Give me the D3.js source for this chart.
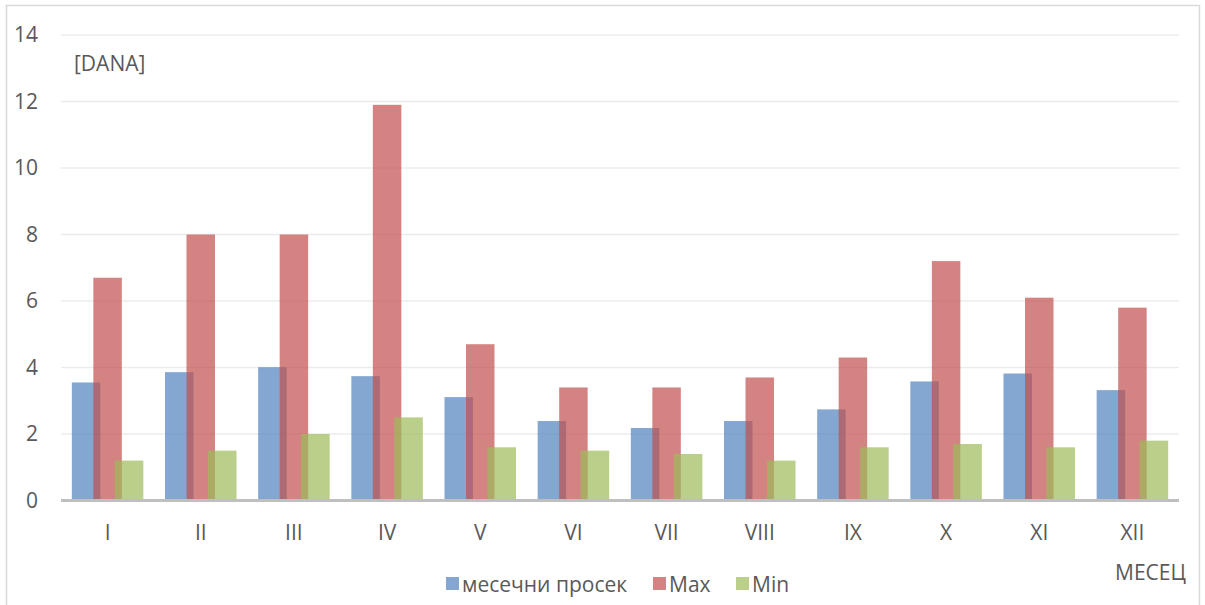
<!DOCTYPE html>
<html>
<head>
<meta charset="utf-8">
<script src="https://cdn.jsdelivr.net/npm/d3@7"></script>
<style>
  html, body { margin: 0; padding: 0; background: #fff; }
  svg text { font-family: "Open Sans", "Noto Sans", sans-serif; fill: #595959; }
</style>
</head>
<body>
<svg id="chart" width="1205" height="605"></svg>
<script>
// Months (Roman numerals) and the three series in days
const months = ["I", "II", "III", "IV", "V", "VI", "VII", "VIII", "IX", "X", "XI", "XII"];
const avgDays = [3.55, 3.86, 4.01, 3.74, 3.11, 2.39, 2.18, 2.39, 2.74, 3.58, 3.82, 3.32];
const maxDays = [6.7, 8.0, 8.0, 11.9, 4.7, 3.4, 3.4, 3.7, 4.3, 7.2, 6.1, 5.8];
const minDays = [1.2, 1.5, 2.0, 2.5, 1.6, 1.5, 1.4, 1.2, 1.6, 1.7, 1.6, 1.8];
const yTicks = [0, 2, 4, 6, 8, 10, 12, 14];

const series = [
  { name: "месечни просек", values: avgDays, color: "#4F81BD" },
  { name: "Max", values: maxDays, color: "#C0504D" },
  { name: "Min", values: minDays, color: "#9BBB59" }
];

const FONT = 21;
const svg = d3.select("#chart");
const plot = { left: 61, right: 1179, top: 35, bottom: 500.5 };

// Outer frame
svg.append("rect")
  .attr("x", 6.5).attr("y", 5.5)
  .attr("width", 1193).attr("height", 610)
  .attr("fill", "none").attr("stroke", "#d9d9d9").attr("stroke-width", 1.5);

const x = d3.scaleBand().domain(months).range([plot.left, plot.right]).padding(0);
const y = d3.scaleLinear().domain([0, 14]).range([plot.bottom, plot.top]);

// Gridlines
svg.append("g")
  .selectAll("line")
  .data(yTicks.filter(t => t > 0))
  .join("line")
  .attr("x1", plot.left).attr("x2", plot.right)
  .attr("y1", d => y(d)).attr("y2", d => y(d))
  .attr("stroke", "#ececec").attr("stroke-width", 1.5);

// Y axis labels
const yAxis = d3.axisLeft(y).tickValues(yTicks).tickSize(0).tickPadding(0);
const gy = svg.append("g").attr("transform", `translate(38,0)`).call(yAxis);
gy.select(".domain").remove();
gy.selectAll("text").attr("font-size", FONT).attr("fill", "#595959")
  .style("font-family", '"Open Sans", "Noto Sans", sans-serif');

// Bars: each series offset within the band, overlapping its neighbour
const barW = 28.5, offset = 21.5;
series.forEach((s, i) => {
  svg.append("g")
    .selectAll("rect")
    .data(s.values)
    .join("rect")
    .attr("x", (d, j) => x(months[j]) + x.bandwidth() / 2 + (i - 1) * offset - barW / 2)
    .attr("width", barW)
    .attr("y", d => y(d))
    .attr("height", d => y(0) - y(d))
    .attr("fill", s.color)
    .attr("fill-opacity", 0.7);
});

// X axis baseline and labels
svg.append("line")
  .attr("x1", plot.left).attr("x2", plot.right)
  .attr("y1", plot.bottom).attr("y2", plot.bottom)
  .attr("stroke", "#bfbfbf").attr("stroke-width", 3);

const xAxis = d3.axisBottom(x).tickSize(0).tickPadding(0);
const gx = svg.append("g").attr("transform", `translate(0,${plot.bottom + 39})`).call(xAxis);
gx.select(".domain").remove();
gx.selectAll("text").attr("font-size", FONT).attr("fill", "#595959").attr("dy", 0)
  .style("font-family", '"Open Sans", "Noto Sans", sans-serif');

// Axis titles
svg.append("text").attr("x", 74).attr("y", 71).attr("font-size", FONT).text("[DANA]");
svg.append("text").attr("x", 1186).attr("y", 580).attr("font-size", FONT)
  .attr("text-anchor", "end").text("МЕСЕЦ");

// Legend
const legendItems = [
  { x: 446, s: series[0] },
  { x: 653, s: series[1] },
  { x: 736, s: series[2] }
];
const lg = svg.append("g");
legendItems.forEach(it => {
  lg.append("rect").attr("x", it.x).attr("y", 577).attr("width", 13).attr("height", 13)
    .attr("fill", it.s.color).attr("fill-opacity", 0.7);
  lg.append("text").attr("x", it.x + 16).attr("y", 592).attr("font-size", FONT).text(it.s.name);
});
</script>
</body>
</html>
